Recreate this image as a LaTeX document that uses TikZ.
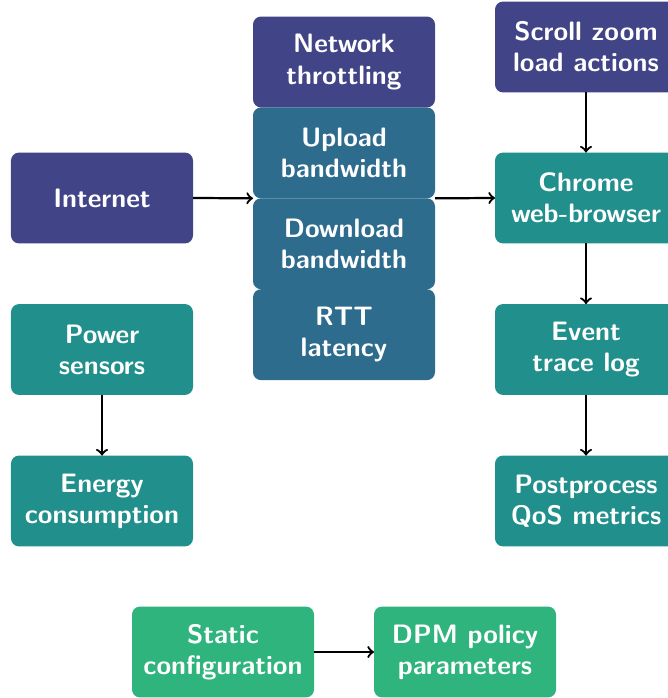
\documentclass[tikz,border=0pt]{standalone}
\usepackage{tikz}
\usetikzlibrary{positioning,arrows}

\definecolor{vpurple}{RGB}{65,68,135}
\definecolor{vblue}{RGB}{46,108,142}
\definecolor{vteal}{RGB}{33,144,140}
\definecolor{vgreen}{RGB}{46,180,124}

\begin{document}
\begin{tikzpicture}[x=0.45pt,y=-0.45pt]
		\tikzstyle{block}=[rectangle, rounded corners=3.6pt, minimum width=81.9pt, minimum height=40.9pt, inner sep=0pt, outer sep=0pt, text=white, align=center, font=\large\sffamily\bfseries]
		\tikzstyle{flow}=[->, line width=1pt, black]
		\useasboundingbox (0,0) rectangle (668,698);
		% network side
		\node [block, fill=vpurple] (throttle) at (344,62) {Network\\throttling};
		\node [block, fill=vblue, below=0pt of throttle] (upload) {Upload\\bandwidth};
		\node [block, fill=vblue, below=0pt of upload] (download) {Download\\bandwidth};
		\node [block, fill=vblue, below=0pt of download] (rtt) {RTT\\latency};
		\node [block, fill=vpurple] (internet) at (102,198) {Internet};
		% browser column
		\node [block, fill=vpurple] (scroll) at (586,47) {Scroll zoom\\load actions};
		\node [block, fill=vteal] (chrome) at (586,198) {Chrome\\web-browser};
		\node [block, fill=vteal] (event) at (586,349.5) {Event\\trace log};
		\node [block, fill=vteal] (postproc) at (586,501) {Postprocess\\QoS metrics};
		% power
		\node [block, fill=vteal] (power) at (102,349.5) {Power\\sensors};
		\node [block, fill=vteal] (energy) at (102,501) {Energy\\consumption};
		% DPM
		\node [block, fill=vgreen] (static) at (223,652) {Static\\configuration};
		\node [block, fill=vgreen] (dpm) at (465,652) {DPM policy\\parameters};
		% arrows
		\draw [flow] (internet.east) -- (upload.south west);
		\draw [flow] (upload.south east) -- (chrome.west);
		\draw [flow] (scroll) -- (chrome);
		\draw [flow] (chrome) -- (event);
		\draw [flow] (event) -- (postproc);
		\draw [flow] (power) -- (energy);
		\draw [flow] (static) -- (dpm);
\end{tikzpicture}
\end{document}
